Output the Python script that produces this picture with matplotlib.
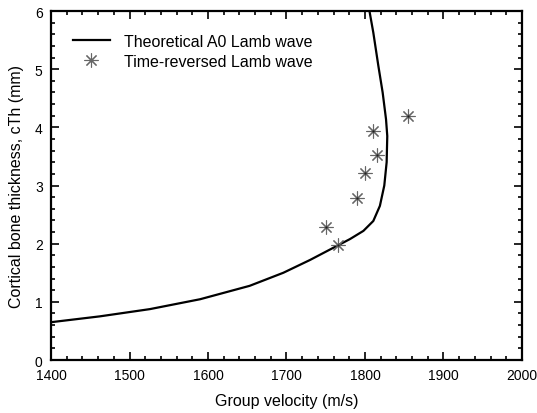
import matplotlib
matplotlib.use("Agg")
import matplotlib.pyplot as plt
from matplotlib.ticker import MultipleLocator

plt.rcParams['font.family'] = ['Liberation Sans', 'DejaVu Sans']

# Theoretical A0 Lamb wave curve
theory_velocity = [1400, 1462, 1526, 1590, 1653, 1696, 1730, 1764, 1781, 1798,
                   1810.6, 1819, 1824.6, 1827.6, 1828.4, 1826.8, 1822.5, 1817,
                   1810.6, 1805.7]
theory_thickness = [0.65, 0.75, 0.875, 1.045, 1.275, 1.5, 1.72, 1.96, 2.08, 2.22,
                    2.39, 2.65, 3.0, 3.4, 3.85, 4.14, 4.6, 5.06, 5.63, 6.0]

# Time-reversed Lamb wave measurements
tr_velocity = [1765, 1750, 1790, 1800, 1815, 1810, 1855]
tr_thickness = [1.98, 2.28, 2.78, 3.21, 3.52, 3.94, 4.20]

fig = plt.figure(figsize=(5.37, 4.14), dpi=100)
ax = fig.add_axes([0.095, 0.128, 0.877, 0.843])

ax.plot(theory_velocity, theory_thickness, color='black', lw=1.6,
        label='Theoretical A0 Lamb wave', solid_joinstyle='round')
ax.plot(tr_velocity, tr_thickness, linestyle='none', marker=(8, 2, 0),
        markersize=10, markeredgewidth=0.8, color='#666666',
        label='Time-reversed Lamb wave')
ax.plot(tr_velocity, tr_thickness, linestyle='none', marker='o',
        markersize=1.6, color='#222222', markeredgewidth=0)

ax.set_xlim(1400, 2000)
ax.set_ylim(0, 6)
ax.xaxis.set_major_locator(MultipleLocator(100))
ax.xaxis.set_minor_locator(MultipleLocator(20))
ax.yaxis.set_major_locator(MultipleLocator(1))
ax.yaxis.set_minor_locator(MultipleLocator(0.2))
ax.tick_params(which='both', direction='in', top=True, right=True,
               labeltop=False, labelright=False, width=1.2)
ax.tick_params(which='major', length=6, labelsize=10, pad=6)
ax.tick_params(which='minor', length=3)
for s in ax.spines.values():
    s.set_linewidth(1.6)

ax.set_xlabel('Group velocity (m/s)', fontsize=11.5, labelpad=8)
ax.set_ylabel('Cortical bone thickness, cTh (mm)', fontsize=11.5, labelpad=8)

ax.legend(loc='upper left', frameon=False, fontsize=11.5, handlelength=2.3,
          handletextpad=0.9, borderaxespad=0.6, labelspacing=0.3,
          bbox_to_anchor=(0.013, 0.98))

fig.savefig('out.png', dpi=100)
